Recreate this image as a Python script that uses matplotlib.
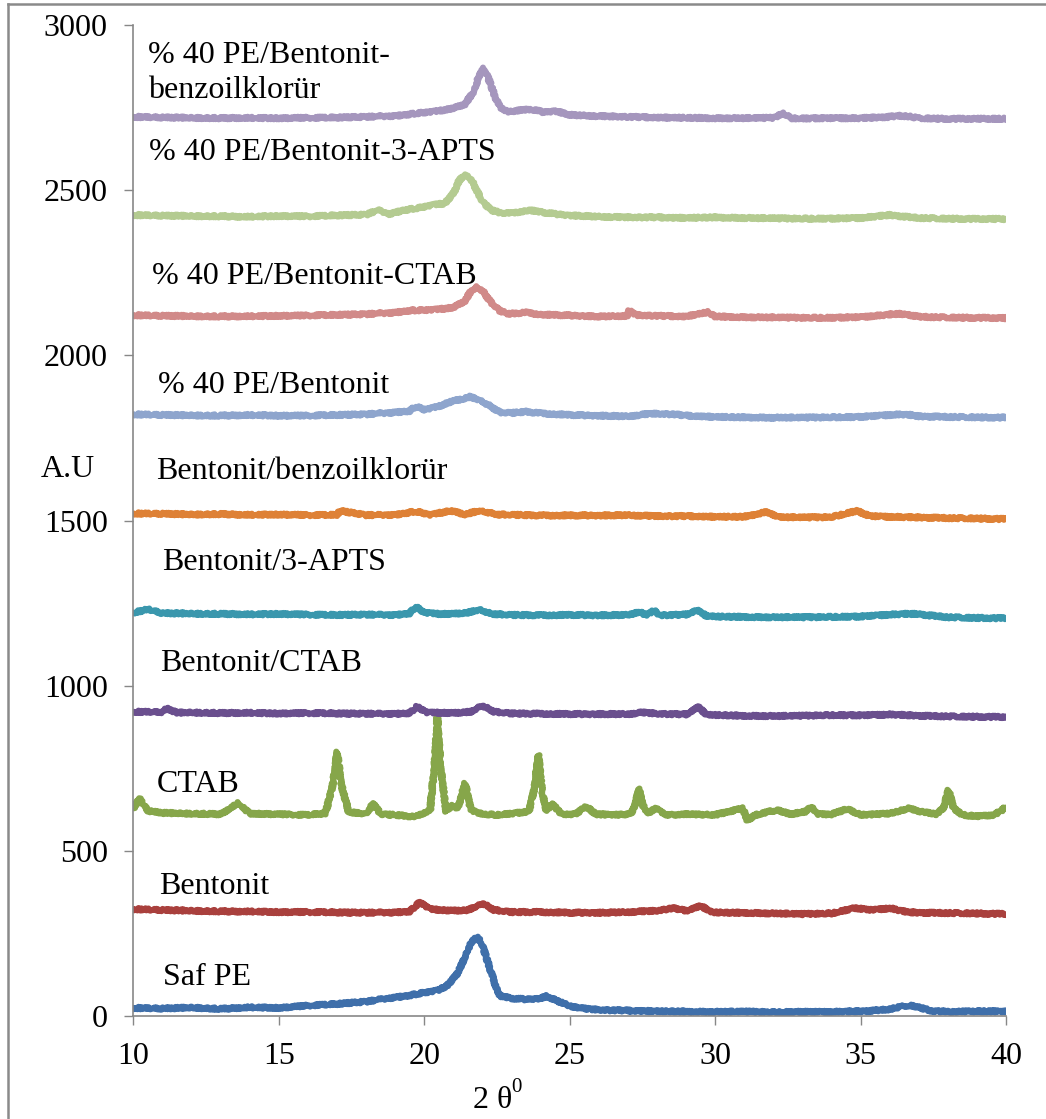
import matplotlib
matplotlib.use("Agg")
import matplotlib.pyplot as plt
from matplotlib.lines import Line2D

plt.rcParams['font.family'] = ['Liberation Serif', 'DejaVu Serif']

# XRD desenleri (2 theta, A.U) - her numune kaydırılmış taban çizgisiyle
saf_pe_x = [10, 11, 12, 13, 14, 15, 16, 17, 18, 18.5, 19, 19.5, 20, 20.5, 20.8, 21.1, 21.3, 21.5, 21.7, 21.85,
            22.0, 22.2, 22.4, 22.6, 23.0, 23.5, 24.0, 24.2, 24.5, 25.0, 25.5, 26, 27, 28, 29, 30, 31, 32, 33, 34,
            35, 35.5, 36, 36.4, 36.7, 37.0, 37.4, 38, 39, 40]
saf_pe_y = [26, 24, 27, 23, 28, 26, 33, 38, 45, 52, 58, 64, 72, 80, 95, 125, 160, 205, 235, 238,
            215, 160, 105, 62, 55, 52, 55, 62, 50, 32, 24, 20, 18, 16, 15, 14, 15, 13, 14, 14,
            16, 18, 22, 30, 34, 28, 18, 14, 16, 15]

bentonit_x = [10, 11, 12, 13, 14, 15, 16, 17, 18, 19, 19.5, 19.85, 20.2, 20.6, 21, 21.5, 22.0, 22.4, 23, 24,
              25, 26, 27, 28, 28.55, 29, 29.5, 29.9, 30.5, 31, 32, 33, 34, 34.8, 35.4, 36.0, 36.6, 37, 38, 39, 40]
bentonit_y = [325, 322, 320, 318, 318, 316, 316, 315, 314, 315, 318, 346, 325, 322, 320, 322, 343, 322, 316, 316,
              314, 314, 316, 320, 328, 320, 335, 315, 314, 314, 312, 310, 312, 328, 322, 328, 316, 314, 313, 312, 310]

ctab_x = [10, 10.2, 10.5, 11, 12, 13, 13.6, 14, 15, 16, 16.6, 16.85, 17.0, 17.15, 17.4, 18, 18.25, 18.5, 19, 19.7,
          20.2, 20.35, 20.45, 20.55, 20.75, 20.95, 21.15, 21.4, 21.6, 22, 22.5, 23, 23.6, 23.8, 23.92, 24.05, 24.2,
          24.4, 24.7, 25.2, 25.56, 25.9, 26.5, 27.1, 27.25, 27.38, 27.5, 27.7, 27.95, 28.3, 29, 30, 30.95, 31.1,
          31.4, 32.1, 32.6, 33.1, 33.3, 33.5, 34, 34.55, 35, 35.5, 36, 36.65, 37.05, 37.6, 37.85, 38.02, 38.2,
          38.5, 39, 39.5, 39.8, 40]
ctab_y = [630, 660, 622, 616, 614, 612, 646, 614, 612, 610, 615, 700, 801, 700, 618, 614, 645, 612, 610, 604,
          625, 760, 909, 760, 620, 640, 630, 706, 625, 612, 610, 614, 620, 700, 791, 680, 622,
          645, 612, 612, 636, 612, 610, 612, 640, 690, 640, 615, 630, 610, 612, 610, 630, 594,
          610, 625, 612, 620, 635, 612, 612, 628, 610, 612, 614, 630, 620, 612, 630, 685, 630,
          610, 606, 608, 620, 635]

bent_ctab_x = [10, 11, 11.14, 11.5, 12, 13, 14, 15, 16, 17, 18, 19, 19.5, 19.74, 20.1, 21, 21.6, 21.97, 22.4, 23,
               24, 25, 26, 27, 27.5, 28, 29, 29.42, 29.7, 30, 31, 32, 33, 34, 35, 36, 37, 38, 39, 40]
bent_ctab_y = [922, 921, 932, 919, 920, 918, 919, 917, 918, 917, 916, 916, 918, 937, 920, 918, 922, 942, 922, 917,
               916, 915, 915, 915, 920, 916, 914, 937, 913, 912, 910, 909, 910, 912, 911, 914, 910, 908, 907, 906]

bent_apts_x = [10, 10.5, 11, 12, 13, 14, 15, 16, 17, 18, 19, 19.5, 19.7, 20.0, 20.5, 21, 21.5, 21.9, 22.3, 23,
               24, 25, 26, 27, 27.4, 27.6, 27.9, 28.1, 29, 29.38, 29.7, 30, 31, 32, 33, 34, 35, 36, 36.5, 37,
               37.3, 38, 39, 40]
bent_apts_y = [1222, 1232, 1220, 1219, 1218, 1217, 1218, 1216, 1215, 1216, 1215, 1220, 1240, 1222, 1218, 1218,
               1222, 1232, 1218, 1215, 1214, 1215, 1214, 1215, 1225, 1214, 1228, 1214, 1216, 1230, 1212, 1210,
               1209, 1208, 1208, 1209, 1210, 1216, 1218, 1218, 1214, 1208, 1206, 1205]

bent_benz_x = [10, 11, 12, 13, 14, 15, 16, 17, 17.1, 18, 19, 19.7, 20.2, 20.9, 21.4, 21.9, 22.5, 23, 24, 25,
               26, 27, 28, 29, 30, 31, 31.77, 32.2, 33, 34, 34.87, 35.3, 36, 37, 38, 39, 40]
bent_benz_y = [1522, 1521, 1519, 1520, 1518, 1519, 1517, 1518, 1530, 1517, 1518, 1528, 1518, 1530, 1519, 1531,
               1519, 1518, 1516, 1516, 1516, 1517, 1514, 1514, 1512, 1512, 1527, 1511, 1510, 1511, 1530, 1514,
               1512, 1510, 1508, 1507, 1505]

pe_bent_x = [10, 11, 12, 13, 14, 15, 16, 17, 18, 19, 19.5, 19.7, 20, 20.5, 20.9, 21.3, 21.57, 21.9, 22.3, 22.6,
             23, 23.5, 24, 25, 26, 27, 27.8, 28.6, 29, 30, 31, 32, 33, 34, 35, 36, 36.4, 36.7, 37, 38, 39, 40]
pe_bent_y = [1822, 1820, 1819, 1818, 1820, 1818, 1818, 1820, 1822, 1828, 1832, 1846, 1836, 1846, 1860, 1868,
             1875, 1866, 1845, 1828, 1826, 1830, 1825, 1820, 1818, 1816, 1824, 1822, 1818, 1814, 1813, 1812,
             1812, 1813, 1814, 1820, 1822, 1820, 1816, 1814, 1813, 1812]

pe_ctab_x = [10, 11, 12, 13, 14, 15, 16, 17, 18, 19, 19.5, 20, 20.5, 21, 21.4, 21.6, 21.8, 22.0, 22.3, 22.6,
             22.9, 23.5, 24, 25, 26, 27, 27.04, 27.3, 28, 29, 29.75, 30, 31, 32, 33, 34, 35, 36, 36.3, 36.6,
             37, 38, 39, 40]
pe_ctab_y = [2122, 2120, 2119, 2118, 2119, 2120, 2121, 2123, 2125, 2130, 2136, 2137, 2140, 2145, 2165, 2195,
             2208, 2196, 2160, 2135, 2126, 2130, 2124, 2121, 2118, 2120, 2136, 2122, 2120, 2118, 2131, 2118,
             2116, 2115, 2114, 2114, 2116, 2124, 2126, 2124, 2117, 2115, 2114, 2113]

pe_apts_x = [10, 11, 12, 13, 14, 15, 16, 17, 18, 18.4, 18.8, 19.3, 19.8, 20.3, 20.7, 21.0, 21.2, 21.4, 21.6,
             21.8, 22.0, 22.3, 22.6, 23, 23.6, 24, 24.5, 25, 26, 27, 28, 29, 30, 31, 32, 33, 34, 35, 36,
             36.5, 37, 38, 39, 40]
pe_apts_y = [2425, 2423, 2422, 2421, 2420, 2422, 2421, 2424, 2426, 2440, 2428, 2440, 2446, 2456, 2460, 2490,
             2530, 2548, 2535, 2500, 2465, 2440, 2432, 2430, 2440, 2434, 2428, 2424, 2420, 2418, 2418, 2416,
             2418, 2416, 2415, 2414, 2414, 2416, 2425, 2420, 2416, 2414, 2413, 2413]

pe_benz_x = [10, 11, 12, 13, 14, 15, 16, 17, 18, 19, 20, 20.5, 21, 21.4, 21.7, 21.9, 22.05, 22.2, 22.4, 22.6,
             22.9, 23.3, 23.7, 24.1, 24.5, 25, 26, 27, 28, 29, 30, 31, 32, 32.35, 32.6, 33, 34, 35, 36, 36.3,
             36.6, 37, 38, 39, 40]
pe_benz_y = [2722, 2720, 2719, 2718, 2719, 2718, 2719, 2720, 2722, 2725, 2735, 2740, 2748, 2760, 2800, 2850,
             2869, 2840, 2790, 2750, 2738, 2742, 2745, 2736, 2740, 2728, 2724, 2722, 2720, 2719, 2718, 2718,
             2719, 2733, 2718, 2717, 2718, 2718, 2722, 2725, 2724, 2718, 2716, 2716, 2716]

# (x, y, renk, etiket, etiket konumu)
series = [
    (saf_pe_x, saf_pe_y, '#3f6faa', 'Saf PE', 11.0, 95),
    (bentonit_x, bentonit_y, '#a9403d', 'Bentonit', 10.88, 371),
    (ctab_x, ctab_y, '#86a64a', 'CTAB', 10.8, 680),
    (bent_ctab_x, bent_ctab_y, '#6a4f8e', 'Bentonit/CTAB', 10.91, 1045),
    (bent_apts_x, bent_apts_y, '#3a97ad', 'Bentonit/3-APTS', 10.98, 1351),
    (bent_benz_x, bent_benz_y, '#de8136', 'Bentonit/benzoilklorür', 10.77, 1626),
    (pe_bent_x, pe_bent_y, '#8ea5cd', '% 40 PE/Bentonit', 10.84, 1887),
    (pe_ctab_x, pe_ctab_y, '#d18a89', '% 40 PE/Bentonit-CTAB', 10.63, 2216),
    (pe_apts_x, pe_apts_y, '#b4cb91', '% 40 PE/Bentonit-3-APTS', 10.53, 2592),
    (pe_benz_x, pe_benz_y, '#a596bd', '% 40 PE/Bentonit-', 10.5, 2885),
]

FS = 23
fig = plt.figure(figsize=(10.46, 11.19), dpi=100)
ax = fig.add_axes([0.1276, 0.0916, 0.8342, 0.8861])

for xs, ys, color, label, lx, ly in series:
    line, = ax.plot(xs, ys, color=color, lw=4.4, solid_joinstyle='round', solid_capstyle='round')
    line.set_sketch_params(scale=1.2, length=2.5, randomness=2)
    ax.text(lx, ly, label, fontsize=FS, ha='left', va='baseline')
ax.text(10.5, 2779, 'benzoilklorür', fontsize=FS, ha='left', va='baseline')

ax.set_xlim(10, 40)
ax.set_ylim(0, 3000)
ax.set_xticks([10, 15, 20, 25, 30, 35, 40])
ax.set_yticks([0, 500, 1000, 1500, 2000, 2500, 3000])

for side in ['top', 'right']:
    ax.spines[side].set_visible(False)
for side in ['left', 'bottom']:
    ax.spines[side].set_color('#878787')
    ax.spines[side].set_linewidth(1.2)
ax.tick_params(axis='both', direction='out', length=6.5, width=1.0, color='#878787', labelsize=FS)
ax.tick_params(axis='y', pad=12)
ax.tick_params(axis='x', pad=12)

# eksen başlıkları
W, H = 1046, 1119
fig.text(40.7 / W, (H - 476.7) / H, 'A.U', fontsize=FS, ha='left', va='baseline')
fig.text(472.7 / W, (H - 1108) / H, '2 θ', fontsize=FS, ha='left', va='baseline')
fig.text(511 / W, (H - 1092) / H, '0', fontsize=15, ha='left', va='baseline')

# dış çerçeve
fig.add_artist(Line2D([8 / W, 8 / W], [0, (H - 3.5) / H], color='#8a8a8a', lw=1.8))
fig.add_artist(Line2D([8 / W, 1], [(H - 3.5) / H, (H - 3.5) / H], color='#8a8a8a', lw=1.8))

fig.savefig('out.png', dpi=100)
